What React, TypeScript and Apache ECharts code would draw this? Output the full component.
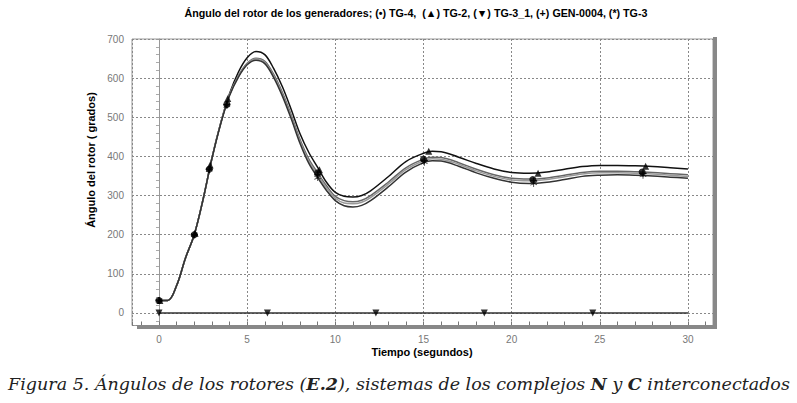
import React, { useEffect, useRef } from "react";
import * as echarts from "echarts";

// Time axis (seconds)
const times = [0, 0.5, 1, 1.5, 2, 2.5, 3, 3.5, 4, 4.5, 5, 5.5, 6, 6.5, 7, 7.5, 8, 8.5, 9, 9.5, 10, 10.5, 11, 11.5, 12, 13, 14, 15, 15.5, 16, 17, 18, 19, 20, 21, 22, 23, 24, 25, 26, 27, 28, 29, 30];

// Rotor angles (degrees)
const tg2 = [32, 32, 70, 140, 200, 290, 395, 485, 560, 615, 652, 668, 660, 625, 578, 520, 458, 410, 372, 334, 308, 298, 296, 300, 312, 348, 387, 408, 413, 412, 398, 382, 368, 359, 357, 360, 367, 374, 377, 377, 376, 374, 371, 368];
const tg4 = [32, 32, 70, 140, 200, 290, 395, 485, 558, 606, 638, 651, 643, 610, 563, 506, 443, 393, 358, 325, 298, 287, 284, 288, 300, 334, 371, 393, 398, 397, 384, 367, 353, 344, 342, 345, 352, 359, 362, 362, 361, 359, 356, 353];
const gen0004 = [32, 32, 70, 140, 200, 290, 394, 484, 557, 604, 636, 649, 640, 606, 559, 501, 438, 388, 353, 320, 293, 281, 279, 283, 295, 329, 366, 389, 394, 393, 380, 363, 349, 340, 338, 341, 348, 355, 358, 358, 357, 355, 352, 349];
const tg3 = [32, 32, 70, 140, 200, 290, 394, 483, 555, 602, 634, 646, 637, 602, 554, 496, 433, 382, 346, 313, 287, 274, 271, 275, 287, 322, 360, 384, 389, 388, 375, 358, 344, 334, 331, 334, 341, 349, 352, 353, 352, 350, 347, 344];
const tg31Line = [[0, 0], [30, 0]];

// Marker points [t, angle]
const tg4Marks = [[0, 32], [2, 200], [2.85, 367], [3.85, 533], [9.0, 358], [15.0, 393], [21.2, 341], [27.4, 360]];
const tg2Marks = [[0.05, 32], [2.05, 204], [2.9, 378], [3.9, 548], [9.1, 366], [15.3, 413], [21.5, 357], [27.6, 375]];
const genMarks = [[0, 32], [2, 200], [2.85, 367], [3.85, 532], [9.0, 353], [15.05, 390], [21.25, 338], [27.45, 357]];
const tg3Marks = [[0, 32], [2, 200], [2.85, 366], [3.85, 530], [9.0, 346], [15.05, 385], [21.25, 331], [27.45, 352]];
const tg31Marks = [[0, 0], [6.15, 0], [12.3, 0], [18.45, 0], [24.6, 0]];

const titleText = "Ángulo del rotor de los generadores; (•) TG-4,  (▲) TG-2, (▼) TG-3_1, (+) GEN-0004, (*) TG-3";
const yName = "Ángulo del rotor ( grados)";
const xName = "Tiempo (segundos)";

const PLUS = "path://M4,0H6V4H10V6H6V10H4V6H0V4H4Z";
const STAR = "path://M4.5,0h1v3.8l3.3-1.9l0.5,0.9l-3.3,1.9l3.3,1.9l-0.5,0.9l-3.3-1.9V10h-1V6.2l-3.3,1.9l-0.5-0.9l3.3-1.9l-3.3-1.9l0.5-0.9l3.3,1.9z";

export default function App() {
  const ref = useRef<HTMLDivElement>(null);
  useEffect(() => {
    if (!ref.current) return;
    const chart = echarts.init(ref.current, null, { renderer: "svg" });
    const pair = (arr: number[]) => times.map((t, i) => [t, arr[i]]);
    const lineSeries = (name: string, arr: number[], color: string) => ({
      name,
      type: "line",
      data: pair(arr),
      smooth: 0.35,
      symbol: "none",
      lineStyle: { color, width: 1.5 },
      z: 3,
    });
    const markSeries = (name: string, data: number[][], symbol: string, size: number, rotate = 0) => ({
      name,
      type: "scatter",
      data,
      symbol,
      symbolSize: size,
      symbolRotate: rotate,
      itemStyle: { color: "#000" },
      z: 5,
    });
    chart.setOption({
      animation: false,
      grid: { left: 132, top: 39, right: 84, bottom: 77.5, show: true, borderColor: "#999", borderWidth: 1 },
      xAxis: [
        {
          type: "value",
          min: -1.53,
          max: 31.42,
          splitNumber: 7,
          axisLine: { show: false },
          axisTick: { show: false },
          axisLabel: {
            color: "#777",
            fontSize: 10,
            fontFamily: "Liberation Sans",
            margin: 9,
            formatter: (v: number) => (Math.abs(v - Math.round(v / 5) * 5) < 1e-6 ? String(Math.round(v)) : ""),
          },
          splitLine: { show: true, lineStyle: { color: "#888", type: [2, 2], width: 1 } },
        },
        {
          type: "value",
          min: -1.53,
          max: 31.42,
          splitNumber: 33,
          position: "bottom",
          axisLine: { show: false },
          axisTick: { show: true, inside: true, length: 4, lineStyle: { color: "#777" } },
          axisLabel: { show: false },
          splitLine: { show: false },
        },
      ],
      yAxis: {
        type: "value",
        min: -32,
        max: 700,
        splitNumber: 7,
        axisLine: { show: true, lineStyle: { color: "#999", width: 1 } },
        axisTick: { show: true, inside: false, length: 3, lineStyle: { color: "#999" } },
        minorTick: { show: true, splitNumber: 5, length: 3, lineStyle: { color: "#aaa" } },
        axisLabel: {
          color: "#777",
          fontSize: 10,
          fontFamily: "Liberation Sans",
          margin: 8,
          formatter: (v: number) => (Math.abs(v - Math.round(v / 100) * 100) < 1e-6 ? String(Math.round(v)) : ""),
        },
        splitLine: { show: true, lineStyle: { color: "#888", type: [2, 2], width: 1 } },
      },
      series: [
        lineSeries("TG-2", tg2, "#111"),
        lineSeries("TG-4", tg4, "#666"),
        lineSeries("GEN-0004", gen0004, "#999"),
        lineSeries("TG-3", tg3, "#333"),
        {
          name: "TG-3_1",
          type: "line",
          data: tg31Line,
          symbol: "none",
          lineStyle: { color: "#333", width: 1.4 },
          z: 3,
        },
        markSeries("TG-4 m", tg4Marks, "circle", 7),
        markSeries("TG-2 m", tg2Marks, "triangle", 7),
        markSeries("GEN-0004 m", genMarks, PLUS, 7),
        markSeries("TG-3 m", tg3Marks, STAR, 7),
        markSeries("TG-3_1 m", tg31Marks, "triangle", 7, 180),
      ],
      graphic: [
        { type: "rect", shape: { x: 137, y: 325, width: 580, height: 4 }, style: { fill: "#888" }, z: 10 },
        { type: "rect", shape: { x: 713, y: 37, width: 4, height: 292 }, style: { fill: "#888" }, z: 10 },
        {
          type: "text",
          x: 416,
          y: 13,
          style: { text: titleText, font: "bold 10.7px 'Liberation Sans', Arial, sans-serif", fill: "#000", align: "center", verticalAlign: "middle" },
        },
        {
          type: "text",
          x: 91,
          y: 160,
          rotation: Math.PI / 2,
          style: { text: yName, font: "bold 11px 'Liberation Sans', Arial, sans-serif", fill: "#000", align: "center", verticalAlign: "middle" },
        },
        {
          type: "text",
          x: 422,
          y: 352,
          style: { text: xName, font: "bold 11px 'Liberation Sans', Arial, sans-serif", fill: "#000", align: "center", verticalAlign: "middle" },
        },
        {
          type: "text",
          x: 399,
          y: 384,
          style: {
            text: "{i|Figura 5. Ángulos de los rotores (}{b|E.2}{i|), sistemas de los complejos }{b|N}{i| y }{b|C}{i| interconectados}",
            align: "center",
            verticalAlign: "middle",
            rich: {
              i: { font: "italic 17.5px 'DejaVu Serif', serif", fill: "#222" },
              b: { font: "italic bold 17.5px 'DejaVu Serif', serif", fill: "#222" },
            },
          },
        },
      ],
    });
    return () => chart.dispose();
  }, []);
  return <div ref={ref} style={{ position: "fixed", left: 0, top: 0, width: 797, height: 403, background: "#fff" }} />;
}
